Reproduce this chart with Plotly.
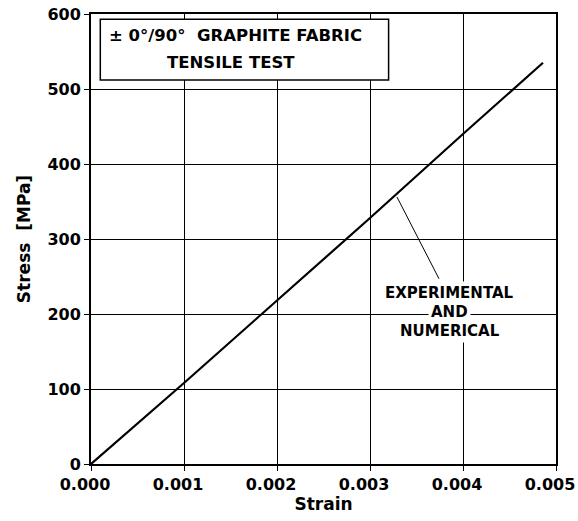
import plotly.graph_objects as go

# Measured stress-strain response (experimental and numerical coincide)
strain = [0.0, 0.001, 0.002, 0.003, 0.004, 0.00486]
stress = [0.0, 108.0, 218.0, 328.0, 440.0, 535.0]

x_ticks = [0.0, 0.001, 0.002, 0.003, 0.004, 0.005]
x_tick_text = ["0.000", "0.001", "0.002", "0.003", "0.004", "0.005"]
y_ticks = [0, 100, 200, 300, 400, 500, 600]

FONT = "DejaVu Sans"
INK = "black"

fig = go.Figure()
fig.add_trace(go.Scatter(
    x=strain, y=stress, mode="lines",
    line=dict(color=INK, width=2.2),
    showlegend=False, hoverinfo="skip",
))

# Title box in the upper left corner of the plot area
fig.add_shape(type="rect", xref="x", yref="y",
              x0=0.0001, x1=0.0032, y0=512, y1=593,
              line=dict(color=INK, width=1.5), fillcolor="white", layer="above")
fig.add_annotation(x=0.00155, y=572, xref="x", yref="y", showarrow=False,
                   text="± 0°/90°  GRAPHITE FABRIC",
                   font=dict(family=FONT, size=16.5, color=INK, weight=700))
fig.add_annotation(x=0.00150, y=536, xref="x", yref="y", showarrow=False,
                   text="TENSILE TEST",
                   font=dict(family=FONT, size=16.5, color=INK, weight=700))

# Leader from the curve to its label
fig.add_shape(type="line", xref="x", yref="y",
              x0=0.00329, y0=356, x1=0.003742, y1=247,
              line=dict(color=INK, width=1), layer="above")

label_font = dict(family=FONT, size=15, color=INK, weight=700)
for txt, yv in [("EXPERIMENTAL", 228), ("AND", 203), ("NUMERICAL", 177)]:
    fig.add_annotation(x=0.00386, y=yv, xref="x", yref="y", showarrow=False,
                       text=txt, font=label_font, bgcolor="white", borderpad=2)

axis_common = dict(
    showline=True, linecolor=INK, linewidth=2, mirror=True,
    showgrid=True, gridcolor=INK, gridwidth=1,
    zeroline=False, ticks="outside", ticklen=5, tickcolor=INK,
    tickfont=dict(family=FONT, size=16, color=INK, weight=700),
    automargin=False,
)

fig.update_xaxes(range=[0, 0.005], tickvals=x_ticks, ticktext=x_tick_text,
                 ticklabelshift=-6, ticklabeloverflow="allow",
                 title=dict(text="Strain", standoff=2,
                            font=dict(family=FONT, size=17, color=INK, weight=700)),
                 **axis_common)
fig.update_yaxes(range=[0, 600], tickvals=y_ticks,
                 title=dict(text="Stress  [MPa]", standoff=12,
                            font=dict(family=FONT, size=17, color=INK, weight=700)),
                 **axis_common)

fig.update_layout(
    width=578, height=521,
    margin=dict(l=91, r=22, t=14, b=57),
    paper_bgcolor="white", plot_bgcolor="white",
    showlegend=False,
)

fig.write_html("out.html")
